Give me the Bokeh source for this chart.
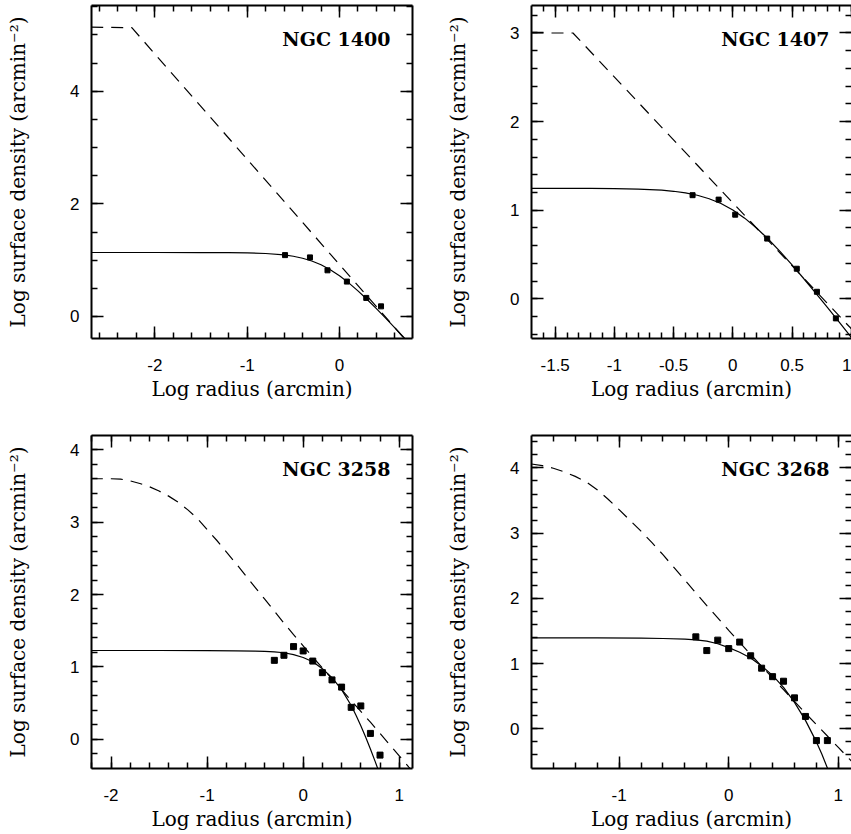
import numpy as np
from bokeh.plotting import figure
from bokeh.models import Range1d, LinearAxis, FixedTicker, Label
from bokeh.layouts import column, row
from bokeh.embed import file_html
from bokeh.resources import INLINE

# ---------------- data ----------------
titles = ["NGC 1400", "NGC 1407", "NGC 3258", "NGC 3268"]
x_title = "Log radius (arcmin)"
y_title = "Log surface density (arcmin\u207b\u00b2)"

# NGC 1400
n1400_pts_x = [-0.59, -0.32, -0.13, 0.08, 0.29, 0.45]
n1400_pts_y = [1.09, 1.05, 0.82, 0.62, 0.33, 0.18]
n1400_fit_x = [-2.69, -2.0, -1.5, -1.2, -1.0, -0.8, -0.6, -0.5, -0.4, -0.3, -0.2, -0.1,
               0.0, 0.1, 0.2, 0.3, 0.4, 0.5, 0.6, 0.7, 0.75]
n1400_fit_y = [1.137, 1.137, 1.136, 1.134, 1.130, 1.119, 1.093, 1.070, 1.035, 0.986, 0.919, 0.831,
               0.724, 0.597, 0.455, 0.301, 0.139, -0.030, -0.203, -0.378, -0.466]
n1400_dash_x = [-2.69, -2.25, 0.75]
n1400_dash_y = [5.14, 5.13, -0.48]

# NGC 1407
n1407_pts_x = [-0.34, -0.12, 0.02, 0.29, 0.54, 0.71, 0.87]
n1407_pts_y = [1.17, 1.12, 0.95, 0.68, 0.34, 0.08, -0.22]
n1407_fit_x = [-1.70, -1.4, -1.2, -1.0, -0.8, -0.6, -0.5, -0.4, -0.3, -0.2, -0.1, 0.0,
               0.1, 0.2, 0.3, 0.4, 0.5, 0.6, 0.7, 0.8, 0.9, 1.0, 1.02]
n1407_fit_y = [1.247, 1.246, 1.246, 1.244, 1.238, 1.226, 1.214, 1.196, 1.169, 1.130, 1.076, 1.003,
               0.911, 0.800, 0.673, 0.533, 0.383, 0.227, 0.066, -0.099, -0.265, -0.433, -0.467]
n1407_dash_x = [-1.70, -1.35, 1.02]
n1407_dash_y = [3.0, 3.0, -0.365]

# NGC 3258
n3258_pts_x = [-0.3, -0.2, -0.1, 0.0, 0.1, 0.2, 0.3, 0.4, 0.5, 0.6, 0.7, 0.8]
n3258_pts_y = [1.09, 1.16, 1.28, 1.22, 1.08, 0.92, 0.82, 0.72, 0.44, 0.46, 0.08, -0.22]
n3258_fit_x = [-2.21, -1.5, -1.0, -0.7, -0.5, -0.4, -0.3, -0.2, -0.1, 0.0, 0.1, 0.2, 0.3,
               0.4, 0.5, 0.55, 0.6, 0.65, 0.7, 0.75, 0.78, 0.80]
n3258_fit_y = [1.226, 1.226, 1.225, 1.222, 1.218, 1.214, 1.208, 1.195, 1.17, 1.13, 1.07, 0.975, 0.85,
               0.685, 0.465, 0.33, 0.185, 0.03, -0.135, -0.31, -0.42, -0.50]
n3258_dash_x = [-2.21, -2.0, -1.9, -1.8, -1.7, -1.6, -1.5, -1.4, -1.3, -1.2, -1.1, -1.0, -0.9,
                -0.8, -0.7, -0.6, -0.5, -0.4, -0.3, -0.2, -0.1, 0.0, 0.1, 0.2, 0.3, 0.4,
                0.5, 0.6, 0.7, 0.8, 0.9, 1.0, 1.1, 1.15]
n3258_dash_y = [3.60, 3.60, 3.595, 3.57, 3.535, 3.49, 3.43, 3.36, 3.275, 3.17, 3.05, 2.90, 2.75,
                2.59, 2.43, 2.265, 2.10, 1.935, 1.77, 1.605, 1.445, 1.29, 1.135, 0.985, 0.835, 0.685,
                0.535, 0.385, 0.235, 0.08, -0.075, -0.23, -0.385, -0.46]

# NGC 3268
n3268_pts_x = [-0.3, -0.2, -0.1, 0.0, 0.1, 0.2, 0.3, 0.4, 0.5, 0.6, 0.7, 0.8, 0.9]
n3268_pts_y = [1.41, 1.20, 1.36, 1.23, 1.33, 1.12, 0.93, 0.80, 0.73, 0.475, 0.19, -0.18, -0.18]
n3268_fit_x = [-1.80, -1.2, -0.8, -0.6, -0.4, -0.3, -0.2, -0.1, 0.0, 0.1, 0.2, 0.3, 0.4, 0.5,
               0.6, 0.7, 0.8, 0.85, 0.9, 0.93]
n3268_fit_y = [1.395, 1.394, 1.39, 1.385, 1.375, 1.365, 1.345, 1.305, 1.245, 1.175, 1.085, 0.965,
               0.82, 0.635, 0.405, 0.13, -0.20, -0.39, -0.60, -0.73]
n3268_dash_x = [-1.80, -1.7, -1.6, -1.5, -1.4, -1.3, -1.2, -1.1, -1.0, -0.9, -0.8, -0.7, -0.6,
                -0.5, -0.4, -0.3, -0.2, -0.1, 0.0, 0.1, 0.2, 0.3, 0.4, 0.5, 0.6, 0.7, 0.8, 0.9,
                1.0, 1.1, 1.15]
n3268_dash_y = [4.06, 4.035, 3.995, 3.94, 3.87, 3.785, 3.665, 3.52, 3.36, 3.195, 3.03, 2.855, 2.67,
                2.475, 2.28, 2.085, 1.89, 1.70, 1.51, 1.325, 1.14, 0.96, 0.78, 0.60, 0.42, 0.24,
                0.065, -0.11, -0.285, -0.46, -0.545]

# tick labels
n1400_xticks = [-2, -1, 0]
n1400_xlabels = ["-2", "-1", "0"]
n1400_yticks = [0, 2, 4]
n1400_ylabels = ["0", "2", "4"]
n1407_xticks = [-1.5, -1, -0.5, 0, 0.5, 1]
n1407_xlabels = ["-1.5", "-1", "-0.5", "0", "0.5", "1"]
n1407_yticks = [0, 1, 2, 3]
n1407_ylabels = ["0", "1", "2", "3"]
n3258_xticks = [-2, -1, 0, 1]
n3258_xlabels = ["-2", "-1", "0", "1"]
n3258_yticks = [0, 1, 2, 3, 4]
n3258_ylabels = ["0", "1", "2", "3", "4"]
n3268_xticks = [-1, 0, 1]
n3268_xlabels = ["-1", "0", "1"]
n3268_yticks = [0, 1, 2, 3, 4]
n3268_ylabels = ["0", "1", "2", "3", "4"]


def minor(lo, hi, step):
    return [round(float(v), 4) for v in np.arange(lo, hi + step / 2, step)]


def style_axis(ax, ticker, overrides=None, label=None, tick_standoff=0, label_standoff=0,
               show_line=True):
    ax.ticker = ticker
    ax.axis_line_color = "black" if show_line else None
    ax.axis_line_width = 2
    ax.major_tick_in = 12
    ax.major_tick_out = 0
    ax.minor_tick_in = 6
    ax.minor_tick_out = 0
    ax.major_tick_line_color = "black"
    ax.minor_tick_line_color = "black"
    ax.major_tick_line_width = 1.5
    ax.minor_tick_line_width = 1.5
    if overrides is not None:
        ax.major_label_overrides = overrides
        ax.major_label_text_font = "Liberation Sans"
        ax.major_label_text_font_size = "17px"
        ax.major_label_text_color = "black"
        ax.major_label_standoff = tick_standoff
    else:
        ax.major_label_text_font_size = "0px"
        ax.major_label_text_color = None
        ax.major_label_standoff = 0
    if label is not None:
        ax.axis_label = label
        ax.axis_label_text_font = "DejaVu Serif"
        ax.axis_label_text_font_style = "normal"
        ax.axis_label_text_font_size = "20px"
        ax.axis_label_text_color = "black"
        ax.axis_label_standoff = label_standoff


def make_panel(title, xr, yr, xt, xl, xminor, yt, yl, yminor,
               pts_x, pts_y, fit_x, fit_y, dash_x, dash_y,
               width, height, bl, br, bt, bb, fw, fh, right_line, msize):
    p = figure(width=width, height=height, x_range=Range1d(*xr), y_range=Range1d(*yr),
               output_backend="svg", toolbar_location=None,
               min_border_left=bl, min_border_right=br, min_border_top=bt, min_border_bottom=bb)
    p.outline_line_color = None
    p.grid.visible = False
    p.background_fill_color = "white"
    p.border_fill_color = "white"

    xtick = FixedTicker(ticks=xt, minor_ticks=xminor)
    ytick = FixedTicker(ticks=yt, minor_ticks=yminor)
    style_axis(p.xaxis[0], xtick, {float(t): s for t, s in zip(xt, xl)}, x_title, 20, 3)
    style_axis(p.yaxis[0], ytick, {float(t): s for t, s in zip(yt, yl)}, y_title, 12, 37)
    top = LinearAxis()
    style_axis(top, FixedTicker(ticks=xt, minor_ticks=xminor))
    p.add_layout(top, "above")
    right = LinearAxis()
    style_axis(right, FixedTicker(ticks=yt, minor_ticks=yminor), show_line=right_line)
    p.add_layout(right, "right")

    p.line(dash_x, dash_y, line_color="black", line_width=1.2, line_dash="12 8")
    p.line(fit_x, fit_y, line_color="black", line_width=1.2)
    p.scatter(pts_x, pts_y, marker="square", size=msize, color="black")

    p.add_layout(Label(x=fw - 22, y=fh - 33, x_units="screen", y_units="screen", text=title,
                       text_font="DejaVu Serif", text_font_style="bold", text_font_size="19px",
                       text_align="right", text_baseline="alphabetic", text_color="black"))
    return p


H1 = 425
H2 = 409
W1 = 440
W2 = 411

p1 = make_panel(titles[0], (-2.687, 0.791), (-0.391, 5.524),
                n1400_xticks, n1400_xlabels, minor(-2.6, 0.6, 0.2),
                n1400_yticks, n1400_ylabels, minor(0.0, 5.5, 0.5),
                n1400_pts_x, n1400_pts_y, n1400_fit_x, n1400_fit_y, n1400_dash_x, n1400_dash_y,
                W1, H1, 91, W1 - 91 - 321, 5, H1 - 338, 321, 333, True, 5)
p2 = make_panel(titles[1], (-1.70, 1.002), (-0.447, 3.31),
                n1407_xticks, n1407_xlabels, minor(-1.6, 1.0, 0.1),
                n1407_yticks, n1407_ylabels, minor(-0.4, 3.2, 0.2),
                n1407_pts_x, n1407_pts_y, n1407_fit_x, n1407_fit_y, n1407_dash_x, n1407_dash_y,
                W2, H1, 91, 0, 5, H1 - 338, 320, 333, False, 5)
p3 = make_panel(titles[2], (-2.203, 1.138), (-0.405, 4.198),
                n3258_xticks, n3258_xlabels, minor(-2.2, 1.0, 0.2),
                n3258_yticks, n3258_ylabels, minor(-0.2, 4.0, 0.2),
                n3258_pts_x, n3258_pts_y, n3258_fit_x, n3258_fit_y, n3258_dash_x, n3258_dash_y,
                W1, H2, 91, W1 - 91 - 321, 10, H2 - 343, 321, 333, True, 6)
p4 = make_panel(titles[3], (-1.799, 1.12), (-0.608, 4.497),
                n3268_xticks, n3268_xlabels, minor(-1.6, 1.0, 0.2),
                n3268_yticks, n3268_ylabels, minor(-0.4, 4.4, 0.2),
                n3268_pts_x, n3268_pts_y, n3268_fit_x, n3268_fit_y, n3268_dash_x, n3268_dash_y,
                W2, H2, 91, 0, 10, H2 - 343, 320, 333, False, 6)

layout = column(row(p1, p2), row(p3, p4))

open("out.html", "w").write(file_html(layout, INLINE))
